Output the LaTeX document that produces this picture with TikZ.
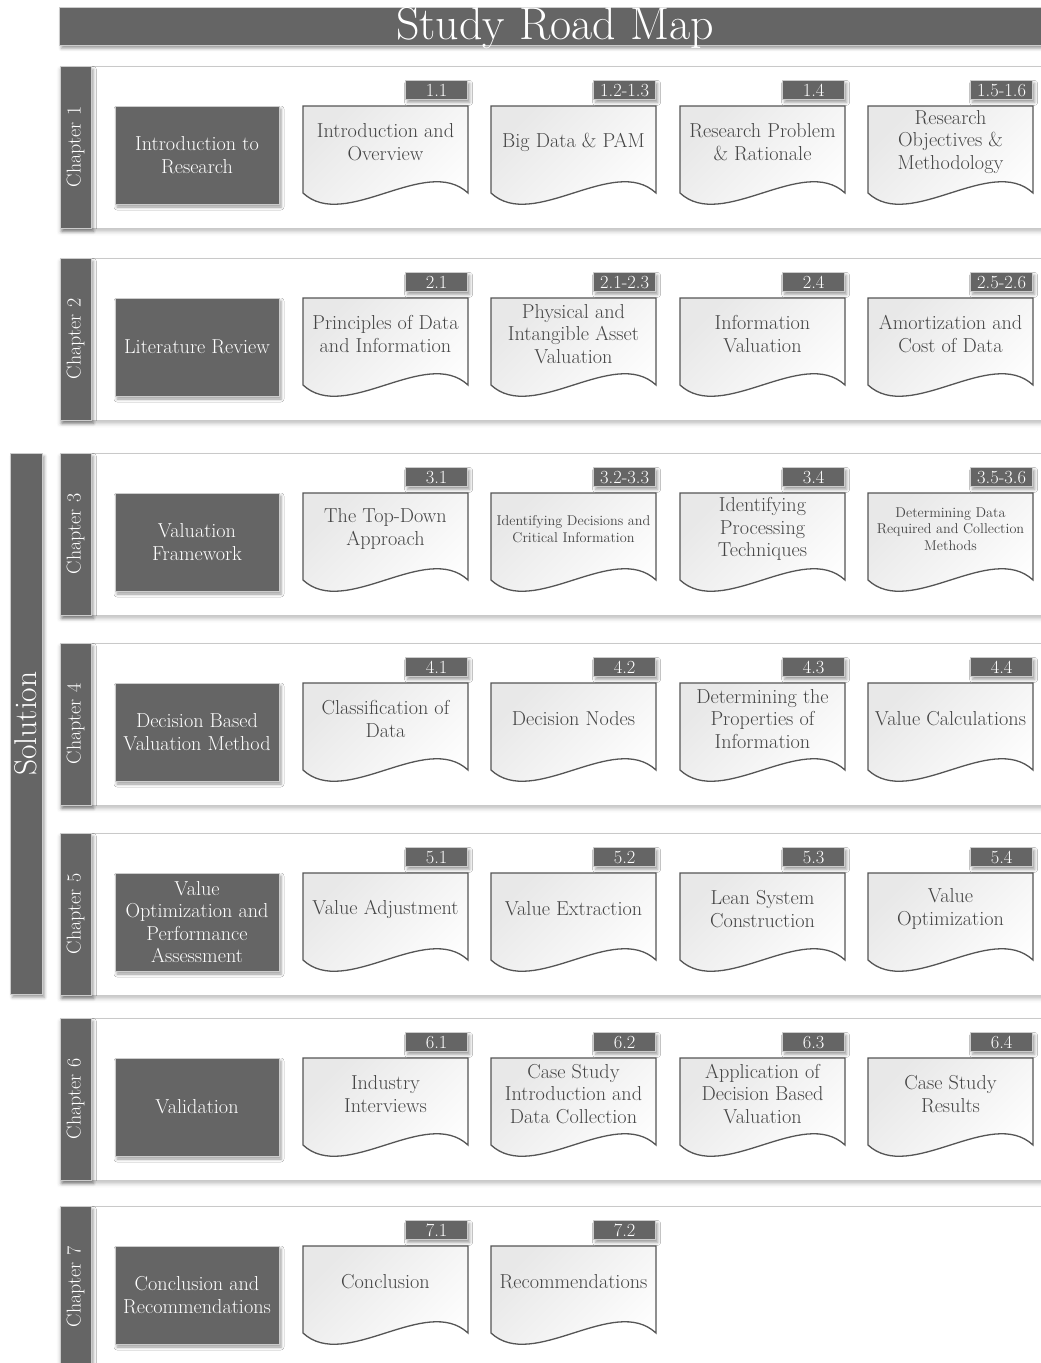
\documentclass[tikz,border=0pt]{standalone}
\usepackage{fontspec}
\usetikzlibrary{shadows.blur}

\definecolor{slate}{HTML}{656565}
\definecolor{panelline}{HTML}{C9C9C9}
\definecolor{docline}{HTML}{555555}
\definecolor{doctext}{HTML}{444444}

\tikzset{
  darkshadow/.style={blur shadow={shadow xshift=2pt,shadow yshift=-3pt,shadow blur radius=3pt,shadow opacity=40}},
  panelbox/.style={draw=panelline, line width=1.2pt, fill=white,
    blur shadow={shadow xshift=0pt,shadow yshift=-3pt,shadow blur radius=4pt,shadow opacity=25},
    anchor=north west, minimum width=1000pt, minimum height=162pt, inner sep=0pt},
  chapbar/.style={fill=slate, draw=black!20, line width=0.8pt, darkshadow,
    anchor=north west, minimum width=31pt, minimum height=162pt, inner sep=0pt},
  chaplabel/.style={rotate=90, text=white, inner sep=0pt, font=\fontsize{20}{22}\selectfont},
  headbox/.style={fill=slate, draw=black!20, line width=0.8pt, darkshadow,
    minimum width=164pt, minimum height=98pt, inner sep=0pt, text=white, align=center,
    font=\fontsize{20.2}{22.6}\selectfont},
  docpath/.style={draw=docline, line width=1.3pt, top color=black!9, bottom color=white, shading angle=45},
  doclabel/.style={text=doctext, align=center, inner sep=0pt, font=\fontsize{20.2}{22.6}\selectfont},
  smalllabel/.style={font=\fontsize{14.2}{16.6}\selectfont},
  tagbox/.style={fill=slate, draw=black!20, line width=0.8pt, darkshadow, anchor=north east,
    minimum width=62pt, minimum height=19pt, inner xsep=3pt, inner ysep=0pt, text=white,
    font=\fontsize{18.5}{20}\selectfont, text height=12.5pt, text depth=0pt},
}

% one section sheet: [label style] name, left edge, row top, section tag, text
\newcommand\docitem[6][doclabel]{%
  \path[docpath] (#3,#4+40) -- (#3+165,#4+40) -- (#3+165,#4+127)
    .. controls (#3+123,#4+88) and (#3+42,#4+166) .. (#3,#4+127) -- cycle;
  \node[tagbox] (#2tag) at (#3+165,#4+14) {#5};
  \node[doclabel,#1] (#2) at (#3+82.5,#4+76) {#6};
}

% one chapter band: name, row top, chapter number, heading
\newcommand\roadrow[4]{%
  \node[panelbox] (#1panel) at (60,#2) {};
  \node[chapbar] (#1bar) at (60,#2) {};
  \node[chaplabel] (#1label) at (75.5,#2+81) {Chapter #3};
  \node[headbox] (#1head) at (197,#2+89) {#4};
}

\begin{document}
\begin{tikzpicture}[x=1pt,y=-1pt]
  \useasboundingbox (0,0) rectangle (1041,1363);
  \clip (0,0) rectangle (1041,1363);

  % banner
  \node[fill=slate, draw=black!20, line width=0.8pt, darkshadow, anchor=north west,
        minimum width=1000pt, minimum height=38pt, inner sep=0pt] (banner) at (59,7) {};
  \node[text=white, anchor=base, inner sep=0pt, font=\fontsize{46}{50}\selectfont]
        (bannertext) at (555,39) {Study Road Map};

  % solution bracket
  \node[fill=slate, draw=black!20, line width=0.8pt, darkshadow, anchor=north west,
        minimum width=32pt, minimum height=541pt, inner sep=0pt] (solbar) at (10,453) {};
  \node[rotate=90, text=white, inner sep=0pt, font=\fontsize{31.5}{34}\selectfont]
        (sollabel) at (26,723.5) {Solution};

  % chapter 1
  \roadrow{r1}{66}{1}{Introduction to\\Research}
  \docitem{r1a}{303}{66}{1.1}{Introduction and\\Overview}
  \docitem{r1b}{491}{66}{1.2-1.3}{Big Data \& PAM}
  \docitem{r1c}{680}{66}{1.4}{Research Problem\\\& Rationale}
  \docitem{r1d}{868}{66}{1.5-1.6}{Research\\Objectives \&\\Methodology}

  % chapter 2
  \roadrow{r2}{258}{2}{Literature Review}
  \docitem{r2a}{303}{258}{2.1}{Principles of Data\\and Information}
  \docitem{r2b}{491}{258}{2.1-2.3}{Physical and\\Intangible Asset\\Valuation}
  \docitem{r2c}{680}{258}{2.4}{Information\\Valuation}
  \docitem{r2d}{868}{258}{2.5-2.6}{Amortization and\\Cost of Data}

  % chapter 3
  \roadrow{r3}{453}{3}{Valuation\\Framework}
  \docitem{r3a}{303}{453}{3.1}{The Top-Down\\Approach}
  \docitem[smalllabel]{r3b}{491}{453}{3.2-3.3}{Identifying Decisions and\\Critical Information}
  \docitem{r3c}{680}{453}{3.4}{Identifying\\Processing\\Techniques}
  \docitem[smalllabel]{r3d}{868}{453}{3.5-3.6}{Determining Data\\Required and Collection\\Methods}

  % chapter 4
  \roadrow{r4}{643}{4}{Decision Based\\Valuation Method}
  \docitem{r4a}{303}{643}{4.1}{Classification of\\Data}
  \docitem{r4b}{491}{643}{4.2}{Decision Nodes}
  \docitem{r4c}{680}{643}{4.3}{Determining the\\Properties of\\Information}
  \docitem{r4d}{868}{643}{4.4}{Value Calculations}

  % chapter 5
  \roadrow{r5}{833}{5}{Value\\Optimization and\\Performance\\Assessment}
  \docitem{r5a}{303}{833}{5.1}{Value Adjustment}
  \docitem{r5b}{491}{833}{5.2}{Value Extraction}
  \docitem{r5c}{680}{833}{5.3}{Lean System\\Construction}
  \docitem{r5d}{868}{833}{5.4}{Value\\Optimization}

  % chapter 6
  \roadrow{r6}{1018}{6}{Validation}
  \docitem{r6a}{303}{1018}{6.1}{Industry\\Interviews}
  \docitem{r6b}{491}{1018}{6.2}{Case Study\\Introduction and\\Data Collection}
  \docitem{r6c}{680}{1018}{6.3}{Application of\\Decision Based\\Valuation}
  \docitem{r6d}{868}{1018}{6.4}{Case Study\\Results}

  % chapter 7
  \roadrow{r7}{1206}{7}{Conclusion and\\Recommendations}
  \docitem{r7a}{303}{1206}{7.1}{Conclusion}
  \docitem{r7b}{491}{1206}{7.2}{Recommendations}
\end{tikzpicture}
\end{document}
